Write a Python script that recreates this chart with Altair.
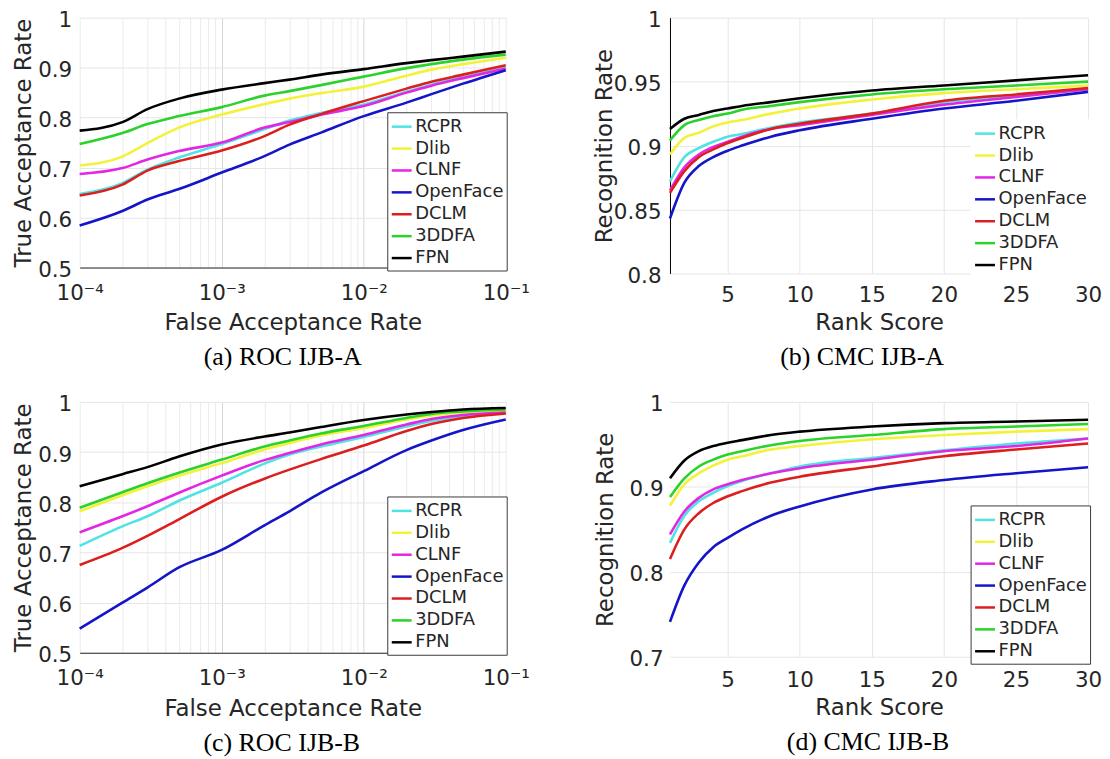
import altair as alt
import pandas as pd

METHODS = ["RCPR", "Dlib", "CLNF", "OpenFace", "DCLM", "3DDFA", "FPN"]
COLORS = ["#4fe3e3", "#f2f23a", "#e326e3", "#1414c8", "#dc1e1e", "#2ad22a", "#000000"]

FAR = [1e-4, 2e-4, 3e-4, 5e-4, 1e-3, 2e-3, 3e-3, 5e-3, 1e-2, 2e-2, 3e-2, 5e-2, 1e-1]
RANK = [1, 2, 3, 4, 5, 6, 8, 10, 15, 20, 25, 30]

ROC_A = {
    "RCPR":     [0.647, 0.669, 0.696, 0.720, 0.747, 0.777, 0.794, 0.809, 0.826, 0.852, 0.866, 0.881, 0.900],
    "Dlib":     [0.704, 0.722, 0.749, 0.780, 0.806, 0.827, 0.838, 0.849, 0.862, 0.884, 0.896, 0.907, 0.920],
    "CLNF":     [0.687, 0.699, 0.716, 0.733, 0.750, 0.780, 0.791, 0.806, 0.823, 0.850, 0.864, 0.879, 0.898],
    "OpenFace": [0.584, 0.613, 0.636, 0.657, 0.690, 0.723, 0.746, 0.770, 0.803, 0.830, 0.847, 0.868, 0.895],
    "DCLM":     [0.644, 0.666, 0.694, 0.713, 0.734, 0.763, 0.786, 0.807, 0.833, 0.858, 0.872, 0.886, 0.905],
    "3DDFA":    [0.747, 0.769, 0.787, 0.803, 0.821, 0.844, 0.853, 0.865, 0.882, 0.899, 0.907, 0.916, 0.926],
    "FPN":      [0.774, 0.791, 0.817, 0.838, 0.856, 0.869, 0.876, 0.886, 0.897, 0.909, 0.915, 0.922, 0.932],
}

ROC_B = {
    "RCPR":     [0.713, 0.752, 0.772, 0.803, 0.839, 0.877, 0.895, 0.911, 0.930, 0.951, 0.962, 0.972, 0.978],
    "Dlib":     [0.782, 0.814, 0.832, 0.853, 0.878, 0.905, 0.918, 0.933, 0.948, 0.965, 0.973, 0.979, 0.983],
    "CLNF":     [0.740, 0.772, 0.792, 0.819, 0.853, 0.884, 0.898, 0.915, 0.934, 0.955, 0.966, 0.974, 0.979],
    "OpenFace": [0.548, 0.600, 0.630, 0.670, 0.705, 0.754, 0.782, 0.819, 0.862, 0.904, 0.923, 0.944, 0.965],
    "DCLM":     [0.675, 0.709, 0.733, 0.766, 0.811, 0.847, 0.865, 0.886, 0.913, 0.942, 0.956, 0.968, 0.977],
    "3DDFA":    [0.789, 0.820, 0.838, 0.859, 0.885, 0.911, 0.923, 0.937, 0.952, 0.968, 0.976, 0.981, 0.985],
    "FPN":      [0.832, 0.856, 0.870, 0.891, 0.915, 0.931, 0.939, 0.950, 0.964, 0.975, 0.980, 0.985, 0.988],
}

CMC_A = {
    "RCPR":     [0.872, 0.891, 0.898, 0.903, 0.907, 0.909, 0.914, 0.918, 0.925, 0.934, 0.939, 0.944],
    "Dlib":     [0.893, 0.906, 0.910, 0.915, 0.918, 0.920, 0.925, 0.929, 0.936, 0.941, 0.944, 0.947],
    "CLNF":     [0.865, 0.883, 0.893, 0.899, 0.903, 0.907, 0.913, 0.916, 0.924, 0.932, 0.938, 0.944],
    "OpenFace": [0.843, 0.871, 0.884, 0.891, 0.896, 0.900, 0.907, 0.912, 0.921, 0.929, 0.935, 0.942],
    "DCLM":     [0.863, 0.880, 0.891, 0.897, 0.902, 0.906, 0.913, 0.917, 0.925, 0.935, 0.940, 0.945],
    "3DDFA":    [0.904, 0.916, 0.920, 0.923, 0.925, 0.928, 0.931, 0.934, 0.940, 0.944, 0.947, 0.950],
    "FPN":      [0.913, 0.921, 0.924, 0.927, 0.929, 0.931, 0.934, 0.937, 0.943, 0.947, 0.951, 0.955],
}

CMC_B = {
    "RCPR":     [0.834, 0.866, 0.883, 0.893, 0.901, 0.907, 0.916, 0.924, 0.934, 0.943, 0.951, 0.957],
    "Dlib":     [0.878, 0.903, 0.916, 0.925, 0.932, 0.936, 0.944, 0.948, 0.956, 0.961, 0.965, 0.968],
    "CLNF":     [0.844, 0.871, 0.887, 0.897, 0.903, 0.908, 0.916, 0.922, 0.932, 0.942, 0.948, 0.957],
    "OpenFace": [0.741, 0.784, 0.811, 0.829, 0.840, 0.850, 0.866, 0.877, 0.897, 0.908, 0.916, 0.923],
    "DCLM":     [0.815, 0.850, 0.869, 0.881, 0.889, 0.895, 0.905, 0.912, 0.924, 0.936, 0.944, 0.951],
    "3DDFA":    [0.888, 0.910, 0.924, 0.932, 0.938, 0.942, 0.949, 0.954, 0.961, 0.968, 0.971, 0.974],
    "FPN":      [0.910, 0.931, 0.942, 0.948, 0.952, 0.955, 0.961, 0.965, 0.971, 0.975, 0.977, 0.979],
}

FAR_TICKS = [1e-4, 2e-4, 3e-4, 4e-4, 5e-4, 6e-4, 7e-4, 8e-4, 9e-4,
             1e-3, 2e-3, 3e-3, 4e-3, 5e-3, 6e-3, 7e-3, 8e-3, 9e-3,
             1e-2, 2e-2, 3e-2, 4e-2, 5e-2, 6e-2, 7e-2, 8e-2, 9e-2, 1e-1]
FAR_LABELS = {1e-4: "10⁻⁴", 1e-3: "10⁻³", 1e-2: "10⁻²", 1e-1: "10⁻¹"}
RANK_TICKS = [5, 10, 15, 20, 25, 30]

FONT = "DejaVu Sans"
TXT = "#262626"


def frame(xs, table):
    rows = []
    for m in METHODS:
        for x, v in zip(xs, table[m]):
            rows.append({"x": x, "v": v, "method": m})
    return pd.DataFrame(rows)


def legend(lx, ly, stroke):
    kw = dict(title=None, orient="none", legendX=lx, legendY=ly, direction="vertical",
              symbolType="stroke", symbolSize=400, symbolStrokeWidth=2.5,
              labelFont=FONT, labelFontSize=18, labelColor=TXT, labelOffset=2,
              rowPadding=1, padding=3, fillColor="white", cornerRadius=0)
    if stroke:
        kw["strokeColor"] = stroke
    return alt.Legend(**kw)


def panel(df, w, h, caption, cap_dx, xaxis, xscale, yaxis, ydomain, leg):
    return alt.Chart(df).mark_line(strokeWidth=2.6, interpolate="monotone").encode(
        x=alt.X("x:Q", scale=xscale, axis=xaxis),
        y=alt.Y("v:Q", scale=alt.Scale(domain=ydomain, nice=False, zero=False), axis=yaxis),
        color=alt.Color("method:N", scale=alt.Scale(domain=METHODS, range=COLORS), legend=leg),
    ).properties(
        width=w, height=h,
        title=alt.TitleParams(text=caption, orient="bottom", font="Liberation Serif", fontSize=26,
                              fontWeight="normal", color="black", frame="group", anchor="middle",
                              dx=cap_dx, offset=10),
    )


far_expr = " : ".join(f"datum.value == {k} ? '{v}'" for k, v in FAR_LABELS.items()) + " : ''"
major_test = " || ".join(f"datum.value == {k}" for k in [1e-3, 1e-2])


def roc_xaxis(w, h_title, pad):
    return alt.Axis(title="False Acceptance Rate", values=FAR_TICKS, labelExpr=far_expr,
                    labelOverlap=False, labelFlush=False, labelPadding=pad, titleX=w / 2,
                    titleY=h_title, titleBaseline="middle", domain=True, domainColor=TXT, grid=True,
                    gridColor=alt.condition(major_test, alt.value("#d6d6d6"), alt.value("#ebebeb")))


def yaxis(title, vals, h, tx, pad):
    return alt.Axis(title=title, values=vals, format="~g", labelPadding=pad, labelOffset=3,
                    titleX=tx, titleY=h / 2, titleBaseline="middle", titleAngle=270,
                    grid=True, gridColor="#e6e6e6")


def cmc_xaxis(w, h_title, pad):
    return alt.Axis(title="Rank Score", values=RANK_TICKS, labelPadding=pad, titleX=w / 2,
                    titleY=h_title, titleBaseline="middle", grid=True, gridColor="#e6e6e6",
                    labelFlush=False)


log_scale = alt.Scale(type="log", domain=[1e-4, 1e-1], nice=False)
rank_scale = alt.Scale(domain=[1, 30], nice=False, zero=False)

roc_y = [0.5, 0.6, 0.7, 0.8, 0.9, 1.0]

a = panel(frame(FAR, ROC_A), 428, 251, "(a) ROC IJB-A", -10,
          roc_xaxis(428, 55, 15), log_scale,
          yaxis("True Acceptance Rate", roc_y, 251, -56, 8), [0.5, 1.0],
          legend(309, 95, "#3a3a3a"))

b_y = yaxis("Recognition Rate", [0.8, 0.85, 0.9, 0.95, 1.0], 257, -66, 9)
b_y["domain"] = True
b_y["domainColor"] = "black"
b = panel(frame(RANK, CMC_A), 420, 257, "(b) CMC IJB-A", -17,
          cmc_xaxis(420, 49, 11), rank_scale,
          b_y, [0.8, 1.0],
          legend(302, 102, None))

c = panel(frame(FAR, ROC_B), 428, 252, "(c) ROC IJB-B", -11,
          roc_xaxis(428, 56, 15), log_scale,
          yaxis("True Acceptance Rate", roc_y, 252, -56, 8), [0.5, 1.0],
          legend(309, 95, "#3a3a3a"))

d = panel(frame(RANK, CMC_B), 420, 256, "(d) CMC IJB-B", -11,
          cmc_xaxis(420, 51, 13), rank_scale,
          yaxis("Recognition Rate", [0.7, 0.8, 0.9, 1.0], 256, -65, 7), [0.7, 1.0],
          legend(302, 104, "#3a3a3a"))

chart = alt.concat(a, b, c, d, columns=2, spacing={"row": 129, "column": 165}, bounds="flush").resolve_scale(
    x="independent", y="independent", color="independent"
).resolve_legend(color="independent").configure(
    background="white", padding={"left": 4, "top": 0, "right": 0, "bottom": 0}
).configure_view(stroke=None).configure_axis(
    labelFont=FONT, labelFontSize=21.5, labelColor=TXT,
    titleFont=FONT, titleFontSize=23, titleFontWeight="normal", titleColor=TXT,
    ticks=False, domain=False,
)

chart.save("out.html", embed_options={"renderer": "svg", "actions": False})
